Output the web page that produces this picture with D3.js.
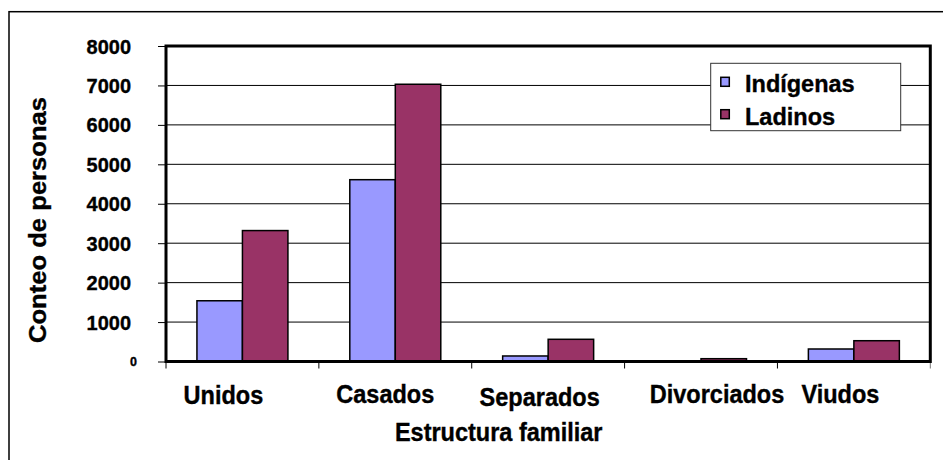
<!DOCTYPE html>
<html>
<head>
<meta charset="utf-8">
<script src="https://cdn.jsdelivr.net/npm/d3@7"></script>
<style>
  html, body { margin: 0; padding: 0; background: #fff; }
  svg { display: block; }
  text { font-family: "Liberation Sans", Arial, sans-serif; font-weight: bold; fill: #000; stroke: #000; stroke-width: 0.35px; }
</style>
</head>
<body>
<svg id="chart" width="943" height="460"></svg>
<script>
// ---- data ----
const categories = ["Unidos", "Casados", "Separados", "Divorciados", "Viudos"];
const seriesNames = ["Indígenas", "Ladinos"];
const indigenas = [1540, 4610, 140, 10, 317];
const ladinos = [3320, 7030, 563, 71, 527];
const yTicks = [0, 1000, 2000, 3000, 4000, 5000, 6000, 7000, 8000];
const xTitle = "Estructura familiar";
const yTitle = "Conteo de personas";

const seriesValues = [indigenas, ladinos];
const colors = ["#9999FF", "#993366"];

const svg = d3.select("#chart");

// outer frame
svg.append("rect")
  .attr("x", 9).attr("y", 11.7).attr("width", 960).attr("height", 470)
  .attr("fill", "#fff").attr("stroke", "#000").attr("stroke-width", 1.5);

const plot = { left: 166, right: 930.3, top: 46, bottom: 361.5 };

const y = d3.scaleLinear().domain([0, 8000]).range([plot.bottom, plot.top]);
const x0 = d3.scaleBand().domain(categories).range([plot.left, plot.right]).padding(0);
const x1 = d3.scaleBand().domain(seriesNames).range([0, x0.bandwidth()]).paddingInner(0).paddingOuter(0.68);

// gridlines
svg.append("g").selectAll("line")
  .data(yTicks.filter(d => d > 0 && d < 8000))
  .join("line")
  .attr("x1", plot.left).attr("x2", plot.right)
  .attr("y1", d => y(d)).attr("y2", d => y(d))
  .attr("stroke", "#000").attr("stroke-width", 1);

// bars
const rows = categories.map((c, i) => ({ cat: c, vals: seriesNames.map((s, j) => ({ s, j, v: seriesValues[j][i] })) }));
svg.append("g").selectAll("g")
  .data(rows).join("g")
  .attr("transform", d => `translate(${x0(d.cat)},0)`)
  .selectAll("rect")
  .data(d => d.vals).join("rect")
  .attr("x", d => x1(d.s))
  .attr("width", x1.bandwidth())
  .attr("y", d => y(d.v))
  .attr("height", d => y(0) - y(d.v))
  .attr("fill", d => colors[d.j])
  .attr("stroke", "#000").attr("stroke-width", 1.5);

// y axis ticks (outer)
const yAxis = d3.axisLeft(y).tickValues(yTicks).tickSize(8).tickFormat("");
const gy = svg.append("g").attr("transform", `translate(${plot.left},0)`).call(yAxis);
gy.select(".domain").remove();
gy.selectAll(".tick line").attr("stroke", "#000").attr("stroke-width", 1);

// y tick labels
svg.append("g").selectAll("text")
  .data(yTicks).join("text")
  .attr("transform", d => `translate(${d === 0 ? 137 : 131},${y(d)}) scale(1,1.05)`)
  .attr("dy", "0.36em")
  .attr("text-anchor", "end")
  .style("font-size", d => d === 0 ? "12.5px" : "20px")
  .text(d => d);

// x axis ticks
const xTickPos = categories.map(c => x0(c)).concat([plot.right]);
svg.append("g").selectAll("line")
  .data(xTickPos).join("line")
  .attr("x1", d => d).attr("x2", d => d)
  .attr("y1", plot.bottom).attr("y2", plot.bottom + 7)
  .attr("stroke", (d, i) => i === xTickPos.length - 1 ? "#777" : "#000")
  .attr("stroke-width", 1);

// plot border (thick)
svg.append("rect")
  .attr("x", plot.left).attr("y", plot.top)
  .attr("width", plot.right - plot.left).attr("height", plot.bottom - plot.top)
  .attr("fill", "none").attr("stroke", "#000").attr("stroke-width", 3);

// category labels
const labelDx = [-19, -10, -8.5, 16, -13.5];
const labelY = [404, 403, 406, 403, 403];
svg.append("g").selectAll("text")
  .data(categories).join("text")
  .attr("transform", (d, i) => `translate(${x0(d) + x0.bandwidth() / 2 + labelDx[i]},${labelY[i]}) scale(1,1.09)`)
  .attr("text-anchor", "middle")
  .style("font-size", "23.5px")
  .text(d => d);

// axis titles
svg.append("text")
  .attr("transform", "translate(498.7,440.5) scale(1,1.1)")
  .attr("text-anchor", "middle")
  .style("font-size", "23.5px")
  .text(xTitle);

svg.append("text")
  .attr("transform", "translate(46,220) rotate(-90) scale(1.09,1)")
  .attr("text-anchor", "middle")
  .style("font-size", "23.5px")
  .text(yTitle);

// legend
const lg = svg.append("g");
lg.append("rect")
  .attr("x", 710.7).attr("y", 63.3).attr("width", 190).attr("height", 67.4)
  .attr("fill", "#fff").attr("stroke", "#333").attr("stroke-width", 1);
const legendBase = [92.3, 124.7];
seriesNames.forEach((s, j) => {
  lg.append("rect")
    .attr("x", 720.8).attr("y", legendBase[j] - 15)
    .attr("width", 8.5).attr("height", 9)
    .attr("fill", colors[j]).attr("stroke", "#000").attr("stroke-width", 1.5);
  lg.append("text")
    .attr("x", 745).attr("y", legendBase[j])
    .style("font-size", "23.5px")
    .text(s);
});
</script>
</body>
</html>
